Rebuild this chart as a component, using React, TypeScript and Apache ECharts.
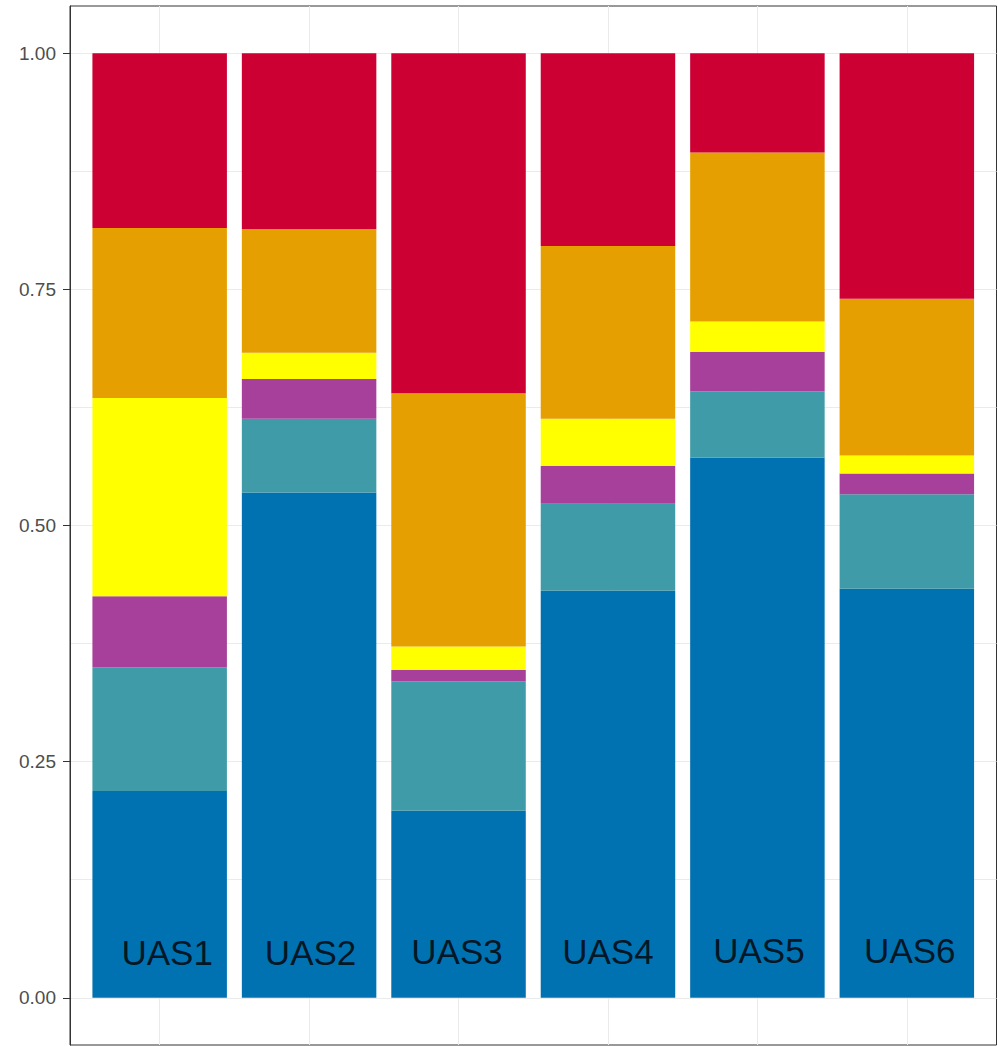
import React, { useEffect, useRef } from "react";
import * as echarts from "echarts";

const categories = ["UAS1", "UAS2", "UAS3", "UAS4", "UAS5", "UAS6"];
const catX = [1, 2, 3, 4, 5, 6];

const blue = [0.219, 0.535, 0.198, 0.431, 0.572, 0.433];
const teal = [0.131, 0.078, 0.137, 0.092, 0.070, 0.100];
const purple = [0.075, 0.042, 0.012, 0.040, 0.042, 0.022];
const yellow = [0.210, 0.028, 0.025, 0.050, 0.032, 0.019];
const orange = [0.180, 0.131, 0.268, 0.183, 0.179, 0.166];
const red = [0.185, 0.186, 0.360, 0.204, 0.105, 0.260];

const labelX = [1.05, 2.01, 2.99, 4.0, 5.01, 6.02];
const labelY = [0.048, 0.048, 0.049, 0.049, 0.05, 0.05];

const majorTicks = [0, 0.25, 0.5, 0.75, 1];
const gridTicks = [0, 0.125, 0.25, 0.375, 0.5, 0.625, 0.75, 0.875, 1];

const seriesDefs = [
  { name: "s1", values: blue, color: "#0072B2" },
  { name: "s2", values: teal, color: "#3F9BA8" },
  { name: "s3", values: purple, color: "#A6409A" },
  { name: "s4", values: yellow, color: "#FFFF00" },
  { name: "s5", values: orange, color: "#E69F00" },
  { name: "s6", values: red, color: "#CC0033" },
];

export default function App() {
  const ref = useRef<HTMLDivElement>(null);
  useEffect(() => {
    document.body.style.margin = "0";
    if (!ref.current) return;
    const chart = echarts.init(ref.current, null, { renderer: "svg" });
    const W = 998;
    const left = 70;
    const right = 1.5;
    const top = 6;
    const bottom = 1;
    const plotW = W - left - right;
    const unit = plotW / 6.2;
    const barW = unit * 0.9;
    const font = "Liberation Sans, Arial, sans-serif";
    chart.setOption({
      animation: false,
      backgroundColor: "#ffffff",
      grid: [
        {
          left,
          right,
          top,
          bottom,
          show: true,
          borderColor: "#333333",
          borderWidth: 1,
          backgroundColor: "transparent",
          z: 0,
        },
        {
          left: left + 0.1 * unit,
          right: right + 0.1 * unit,
          top,
          bottom,
          show: false,
        },
      ],
      xAxis: [
        {
          type: "value",
          gridIndex: 0,
          min: 0.4,
          max: 6.6,
          axisLine: { show: false },
          axisLabel: { show: false },
          axisTick: { show: false, customValues: catX },
          splitLine: { show: true, lineStyle: { color: "#EBEBEB", width: 1 } },
        },
        {
          type: "category",
          gridIndex: 1,
          data: categories,
          boundaryGap: true,
          axisLine: { show: false },
          axisLabel: { show: false },
          axisTick: { show: false },
          splitLine: { show: false },
        },
        {
          type: "value",
          gridIndex: 0,
          min: 0.4,
          max: 6.6,
          show: false,
        },
      ],
      yAxis: [
        {
          type: "value",
          gridIndex: 0,
          min: -0.05,
          max: 1.05,
          axisLine: { show: false },
          axisLabel: { show: false },
          axisTick: { show: false, customValues: gridTicks },
          splitLine: { show: true, lineStyle: { color: "#EBEBEB", width: 1 } },
        },
        {
          type: "value",
          gridIndex: 0,
          min: -0.05,
          max: 1.05,
          position: "left",
          axisLine: { show: true, lineStyle: { color: "#333333", width: 1 } },
          axisTick: {
            show: true,
            length: 7,
            customValues: majorTicks,
            lineStyle: { color: "#333333", width: 1 },
          },
          axisLabel: {
            show: true,
            customValues: majorTicks,
            formatter: (v: number) => v.toFixed(2),
            color: "#4D4D4D",
            fontSize: 19,
            fontFamily: font,
            margin: 14,
          },
          splitLine: { show: false },
        },
        {
          type: "value",
          gridIndex: 1,
          min: -0.05,
          max: 1.05,
          show: false,
          splitLine: { show: false },
        },
      ],
      series: [
        ...seriesDefs.map((s) => ({
          name: s.name,
          type: "bar",
          stack: "total",
          barWidth: barW,
          xAxisIndex: 1,
          yAxisIndex: 2,
          z: 2,
          itemStyle: { color: s.color },
          data: s.values,
        })),
        {
          type: "scatter",
          xAxisIndex: 2,
          yAxisIndex: 0,
          symbolSize: 0,
          z: 10,
          data: labelX.map((x, i) => [x, labelY[i]]),
          label: {
            show: true,
            position: "inside",
            formatter: (p: any) => categories[p.dataIndex],
            color: "#000000",
            fontSize: 35,
            fontFamily: font,
          },
          silent: true,
        },
      ],
    });
    return () => chart.dispose();
  }, []);
  return <div ref={ref} style={{ width: 998, height: 1046 }} />;
}
